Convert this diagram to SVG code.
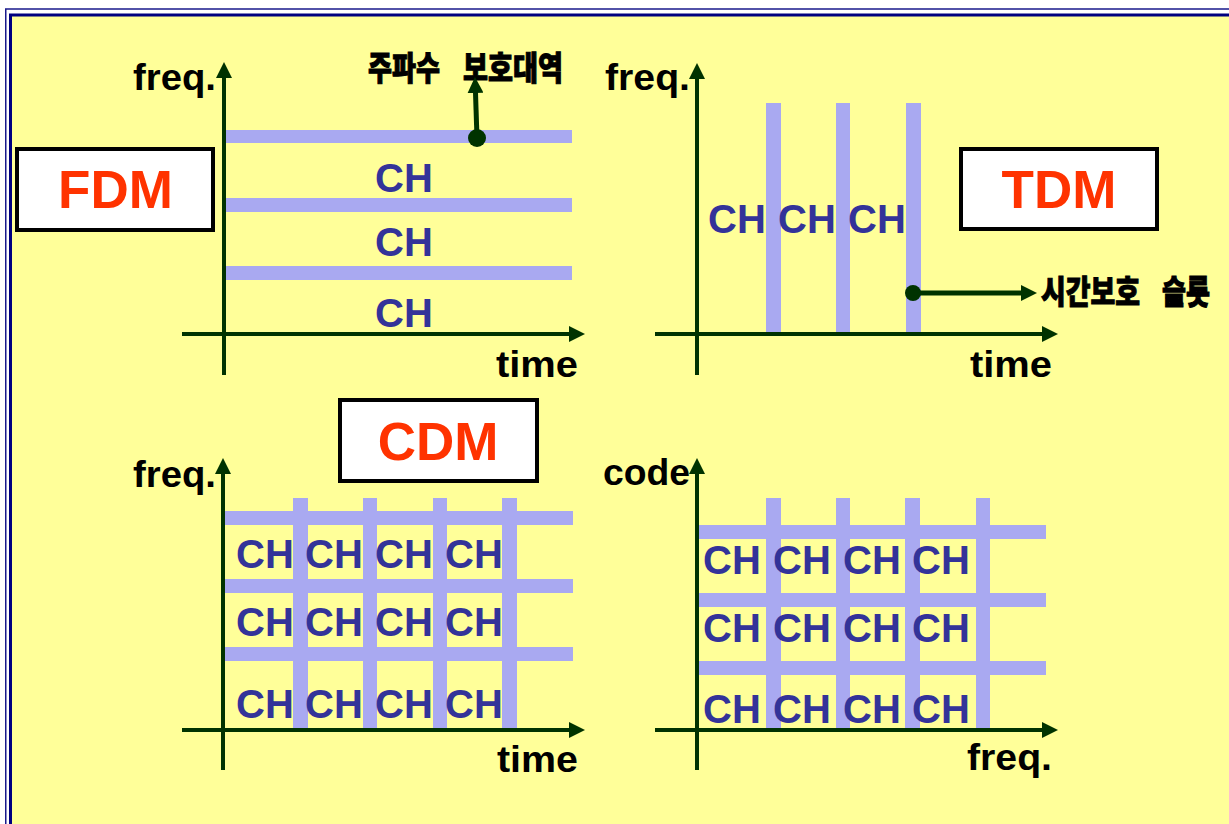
<svg xmlns="http://www.w3.org/2000/svg" width="1229" height="824" viewBox="0 0 1229 824">
<style>
.bar{fill:#A9A9F1}
.ax{stroke:#003300;stroke-width:4;fill:none}
.ptr{stroke:#003300;stroke-width:5;fill:none}
.lab{font-family:"Liberation Sans",Arial,sans-serif;font-weight:bold;font-size:37px;fill:#000}
.ch{font-family:"Liberation Sans",Arial,sans-serif;font-weight:bold;font-size:40px;fill:#333399}
.ttl{font-family:"Liberation Sans",Arial,sans-serif;font-weight:bold;font-size:53px;fill:#FF3300;text-anchor:middle}
.box{fill:#fff;stroke:#000;stroke-width:4}
.kr{font-family:"Noto Sans CJK KR","Noto Sans CJK SC",sans-serif;font-weight:900;font-size:33px;fill:#000;stroke:#000;stroke-width:1}
</style>
<defs>
<marker id="ah" markerUnits="userSpaceOnUse" markerWidth="16" markerHeight="16" refX="3" refY="8" orient="auto" viewBox="0 0 16 16">
<path d="M0,0 L16,8 L0,16 z" fill="#003300"/>
</marker>
</defs>
<rect x="0" y="0" width="1229" height="824" fill="#fff"/>
<rect x="5.75" y="9" width="1300" height="900" fill="none" stroke="#1a1a8c" stroke-width="1.5"/>
<rect x="10.5" y="15" width="1300" height="900" fill="#FFFF99" stroke="#000080" stroke-width="3"/>

<g id="fdm-panel">
<rect class="bar" x="224" y="130" width="348" height="13"/>
<rect class="bar" x="224" y="198" width="348" height="14"/>
<rect class="bar" x="224" y="266" width="348" height="14"/>
<text class="ch" x="375" y="192">CH</text>
<text class="ch" x="375" y="256">CH</text>
<text class="ch" x="375" y="327">CH</text>
<text class="lab" x="133" y="90" textLength="83" lengthAdjust="spacingAndGlyphs">freq.</text>
<text class="lab" x="496" y="377" textLength="82" lengthAdjust="spacingAndGlyphs">time</text>
<text class="kr" x="368" y="80" textLength="72" lengthAdjust="spacingAndGlyphs">주파수</text>
<text class="kr" x="463" y="80" textLength="100" lengthAdjust="spacingAndGlyphs">보호대역</text>
</g>
<g id="fdm-title">
<rect class="box" x="17" y="149" width="196" height="81"/>
<text class="ttl" x="115.5" y="208">FDM</text>
</g>

<g id="tdm-panel">
<rect class="bar" x="766" y="103" width="15" height="232"/>
<rect class="bar" x="836" y="103" width="14" height="232"/>
<rect class="bar" x="906" y="103" width="15" height="232"/>
<text class="ch" x="708" y="233">CH</text>
<text class="ch" x="778" y="233">CH</text>
<text class="ch" x="848" y="233">CH</text>
<text class="lab" x="605" y="90" textLength="85" lengthAdjust="spacingAndGlyphs">freq.</text>
<text class="lab" x="970" y="377" textLength="82" lengthAdjust="spacingAndGlyphs">time</text>
<text class="kr" x="1041" y="304" textLength="99" lengthAdjust="spacingAndGlyphs">시간보호</text>
<text class="kr" x="1162" y="304" textLength="48" lengthAdjust="spacingAndGlyphs">슬롯</text>
</g>
<g id="tdm-title">
<rect class="box" x="961" y="149" width="196" height="80"/>
<text class="ttl" x="1059" y="208">TDM</text>
</g>

<g id="cdm-panel">
<rect class="bar" x="224" y="511" width="349" height="14"/>
<rect class="bar" x="224" y="579" width="349" height="14"/>
<rect class="bar" x="224" y="647" width="349" height="14"/>
<rect class="bar" x="293" y="498" width="15" height="231"/>
<rect class="bar" x="363" y="498" width="14" height="231"/>
<rect class="bar" x="433" y="498" width="14" height="231"/>
<rect class="bar" x="502" y="498" width="15" height="231"/>
<text class="ch" x="236" y="568">CH</text><text class="ch" x="305" y="568">CH</text><text class="ch" x="375" y="568">CH</text><text class="ch" x="445" y="568">CH</text>
<text class="ch" x="236" y="636">CH</text><text class="ch" x="305" y="636">CH</text><text class="ch" x="375" y="636">CH</text><text class="ch" x="445" y="636">CH</text>
<text class="ch" x="236" y="718">CH</text><text class="ch" x="305" y="718">CH</text><text class="ch" x="375" y="718">CH</text><text class="ch" x="445" y="718">CH</text>
<text class="lab" x="133" y="487" textLength="83" lengthAdjust="spacingAndGlyphs">freq.</text>
<text class="lab" x="497" y="772" textLength="81" lengthAdjust="spacingAndGlyphs">time</text>
</g>
<g id="cdm-title">
<rect class="box" x="340" y="400" width="197" height="81"/>
<text class="ttl" x="438" y="460">CDM</text>
</g>

<g id="code-panel">
<rect class="bar" x="697" y="525" width="349" height="14"/>
<rect class="bar" x="697" y="593" width="349" height="14"/>
<rect class="bar" x="697" y="661" width="349" height="14"/>
<rect class="bar" x="766" y="498" width="15" height="231"/>
<rect class="bar" x="836" y="498" width="14" height="231"/>
<rect class="bar" x="905" y="498" width="15" height="231"/>
<rect class="bar" x="976" y="498" width="14" height="231"/>
<text class="ch" x="703" y="574">CH</text><text class="ch" x="773" y="574">CH</text><text class="ch" x="843" y="574">CH</text><text class="ch" x="912" y="574">CH</text>
<text class="ch" x="703" y="642">CH</text><text class="ch" x="773" y="642">CH</text><text class="ch" x="843" y="642">CH</text><text class="ch" x="912" y="642">CH</text>
<text class="ch" x="703" y="723">CH</text><text class="ch" x="773" y="723">CH</text><text class="ch" x="843" y="723">CH</text><text class="ch" x="912" y="723">CH</text>
<text class="lab" x="603" y="485" textLength="87" lengthAdjust="spacingAndGlyphs">code</text>
<text class="lab" x="967" y="770" textLength="85" lengthAdjust="spacingAndGlyphs">freq.</text>
</g>

<g id="connectors">
<line class="ax" x1="224" y1="375" x2="224" y2="75" marker-end="url(#ah)"/>
<line class="ax" x1="182" y1="334" x2="572" y2="334" marker-end="url(#ah)"/>
<line class="ax" x1="697" y1="375" x2="697" y2="76" marker-end="url(#ah)"/>
<line class="ax" x1="655" y1="334" x2="1045" y2="334" marker-end="url(#ah)"/>
<line class="ax" x1="223" y1="770" x2="223" y2="471" marker-end="url(#ah)"/>
<line class="ax" x1="182" y1="730" x2="572" y2="730" marker-end="url(#ah)"/>
<line class="ax" x1="697" y1="770" x2="697" y2="471" marker-end="url(#ah)"/>
<line class="ax" x1="655" y1="730" x2="1045" y2="730" marker-end="url(#ah)"/>
<circle cx="477" cy="138" r="9" fill="#003300"/>
<line class="ptr" x1="477" y1="138" x2="475.4" y2="90" marker-end="url(#ah)"/>
<circle cx="913" cy="293" r="8" fill="#003300"/>
<line class="ptr" x1="913" y1="293" x2="1024" y2="293" marker-end="url(#ah)"/>
</g>
</svg>
